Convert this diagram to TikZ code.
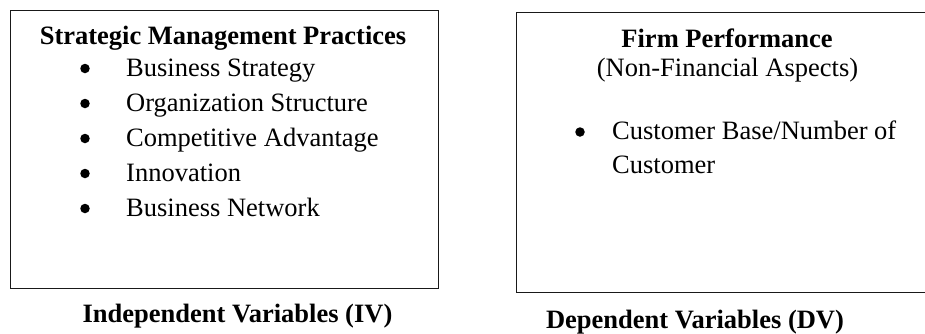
\documentclass[tikz,border=0pt]{standalone}
\usepackage{fontspec}
\setmainfont{Liberation Serif}
\begin{document}
\begin{tikzpicture}[x=1pt,y=-1pt,
  txt/.style={inner sep=0pt, font=\fontsize{26.5}{32}\selectfont},
  ttl/.style={inner sep=0pt, font=\fontsize{26.5}{32}\selectfont\bfseries},
  dot/.style={circle, fill=black, inner sep=0pt, minimum size=9.5pt},
  boxline/.style={draw=black!90, line width=1.3pt, rectangle, inner sep=0pt, anchor=north west}]
\useasboundingbox (0,0) rectangle (925,333);
\clip (0,0) rectangle (925,333);
% left box
\node[boxline, minimum width=428pt, minimum height=278pt] (ivbox) at (10,10) {};
\node[ttl, anchor=base] (smp) at (223,44) {Strategic Management Practices};
\node[dot] (b1) at (85,68.5) {};
\node[txt, anchor=base west] (i1) at (126,76) {Business Strategy};
\node[dot] (b2) at (85,103.5) {};
\node[txt, anchor=base west] (i2) at (126,111) {Organization Structure};
\node[dot] (b3) at (85,138.5) {};
\node[txt, anchor=base west] (i3) at (126,146) {Competitive Advantage};
\node[dot] (b4) at (85,173.5) {};
\node[txt, anchor=base west] (i4) at (126,181) {Innovation};
\node[dot] (b5) at (85,208.5) {};
\node[txt, anchor=base west] (i5) at (126,216) {Business Network};
\node[ttl, anchor=base] (iv) at (237.5,322) {Independent Variables (IV)};
% right box
\node[boxline, minimum width=430pt, minimum height=280pt] (dvbox) at (516,12) {};
\node[ttl, anchor=base] (fp) at (727,47) {Firm Performance};
\node[txt, anchor=base] (nfa) at (727.5,76.5) {(Non-Financial Aspects)};
\node[dot] (b6) at (580,132) {};
\node[txt, anchor=base west] (c1) at (612,139.5) {Customer Base/Number of};
\node[txt, anchor=base west] (c2) at (612,173.5) {Customer};
\node[ttl, anchor=base] (dv) at (695,328) {Dependent Variables (DV)};
\end{tikzpicture}
\end{document}
